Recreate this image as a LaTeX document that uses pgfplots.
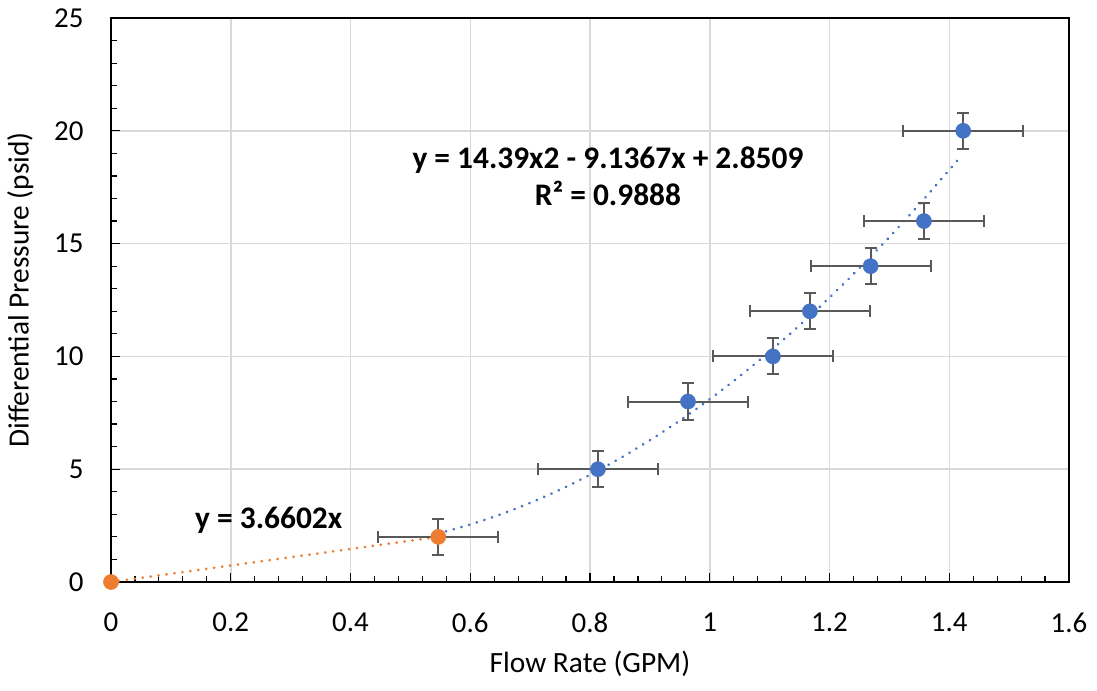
\documentclass[border=0pt]{standalone}
\usepackage{fontspec}
\setmainfont{Carlito}
\usepackage{pgfplots}
\pgfplotsset{compat=1.18}
\definecolor{ptblue}{HTML}{4472C4}
\definecolor{ptorange}{HTML}{ED7D31}
\definecolor{errgray}{HTML}{595959}
\definecolor{gridgray}{HTML}{D9D9D9}
\begin{document}
\begin{tikzpicture}
\begin{axis}[
  scale only axis,
  width=958bp, height=564bp,
  xmin=0, xmax=1.6, ymin=0, ymax=25,
  xtick={0,0.2,...,1.6},
  xticklabels={0,0.2,0.4,0.6,0.8,1,1.2,1.4,1.6},
  ytick={0,5,...,25},
  minor x tick num=4, minor y tick num=4,
  xtick pos=left, ytick pos=left,
  tick align=inside,
  major tick length=9bp, minor tick length=6bp,
  every tick/.style={black, line width=1.2bp},
  xmajorgrids, ymajorgrids,
  major grid style={gridgray, line width=1.5bp},
  axis line style={black, line width=2bp},
  /pgf/number format/assume math mode=true,
  ticklabel style={font=\fontsize{29}{34}\selectfont},
  xticklabel style={yshift=-27bp},
  yticklabel style={xshift=-24bp},
  label style={font=\fontsize{29.5}{35}\selectfont},
  xlabel={Flow Rate (GPM)},
  ylabel={Differential Pressure (psid)},
  xlabel style={yshift=-12bp},
  ylabel style={yshift=14bp, xshift=10bp},
  clip=false,
]
% quadratic trendline
\addplot[ptblue, line width=3bp, line cap=round, dash pattern=on 0.01bp off 8bp, smooth] coordinates {
(0.5466,2.156) (0.60,2.549) (0.65,2.992) (0.70,3.506) (0.75,4.093) (0.80,4.751)
(0.85,5.482) (0.90,6.284) (0.95,7.158) (1.00,8.104) (1.05,9.122) (1.10,10.212)
(1.15,11.374) (1.20,12.609) (1.25,13.914) (1.30,15.292) (1.35,16.742) (1.40,18.264) (1.42,18.893)
};
% linear trendline
\addplot[ptorange, line width=3bp, line cap=round, dash pattern=on 0.01bp off 8bp] coordinates {
(0,0) (0.5466,2.0007)
};
% blue data with error bars
\addplot[only marks, mark=*, mark size=7.6bp, mark options={fill=ptblue, draw=ptblue},
  error bars/.cd, x dir=both, x explicit, y dir=both, y explicit,
  error mark=|,
  error bar style={errgray, line width=2bp},
  error mark options={errgray, line width=2bp, mark size=6bp}]
coordinates {
(0.8133,5) +- (0.1,0.8)
(0.9636,8) +- (0.1,0.8)
(1.1055,10) +- (0.1,0.8)
(1.1673,12) +- (0.1,0.8)
(1.2687,14) +- (0.1,0.8)
(1.3577,16) +- (0.1,0.8)
(1.4233,20) +- (0.1,0.8)
};
% orange data with error bars
\addplot[only marks, mark=*, mark size=7.6bp, mark options={fill=ptorange, draw=ptorange},
  error bars/.cd, x dir=both, x explicit, y dir=both, y explicit,
  error mark=|,
  error bar style={errgray, line width=2bp},
  error mark options={errgray, line width=2bp, mark size=6bp}]
coordinates {
(0.5466,2) +- (0.1,0.8)
};
\addplot[only marks, mark=*, mark size=7.6bp, mark options={fill=ptorange, draw=ptorange}]
coordinates {(0,0)};
\node[anchor=base, font=\bfseries\fontsize{31.5}{37}\selectfont, inner sep=0pt] at (axis cs:0.830,18.35) {y = 14.39x2 - 9.1367x + 2.8509};
\node[anchor=base, font=\bfseries\fontsize{31.5}{37}\selectfont, inner sep=0pt] at (axis cs:0.830,16.67) {R² = 0.9888};
\node[anchor=base west, font=\bfseries\fontsize{31.5}{37}\selectfont, inner sep=0pt] at (axis cs:0.1403,2.39) {y = 3.6602x};
\end{axis}
\path (current axis.south west) ++(-111bp,-109bp) coordinate (bbA);
\path (current axis.north east) ++(28bp,18bp) coordinate (bbB);
\useasboundingbox (bbA) rectangle (bbB);
\end{tikzpicture}
\end{document}
